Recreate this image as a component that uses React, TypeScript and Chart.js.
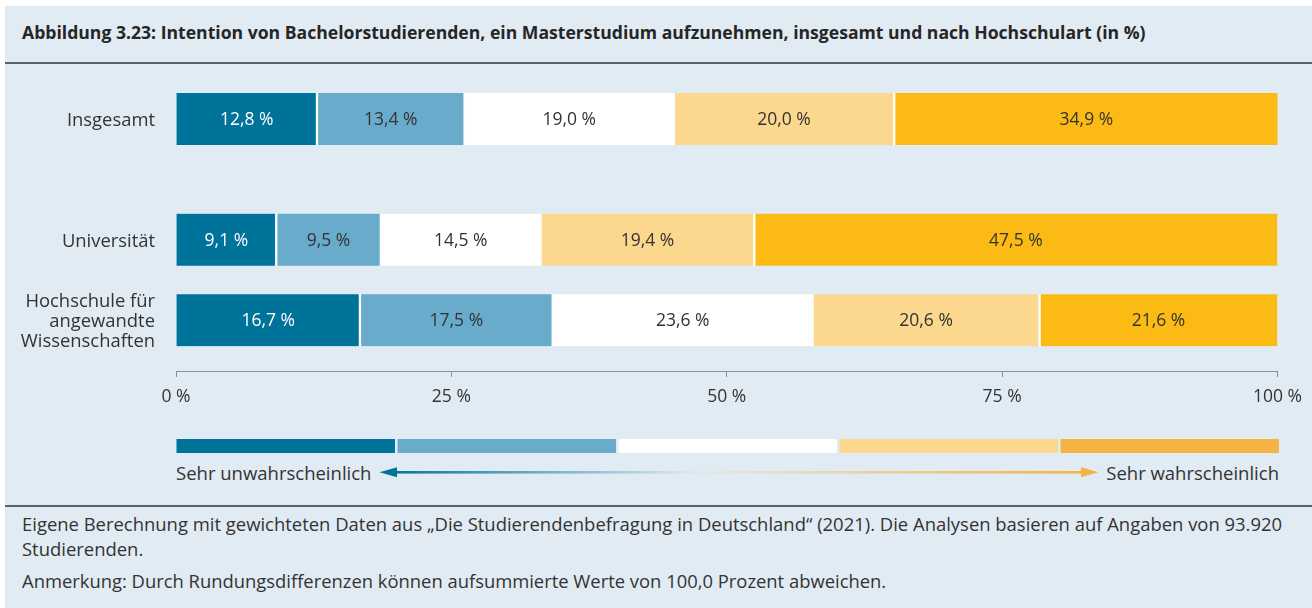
import React, { useEffect, useRef } from 'react';
import { Chart, registerables } from 'chart.js';

Chart.register(...registerables);

// ---------- data ----------
const categories: (string | string[])[] = [
  'Insgesamt',
  'Universität',
  ['Hochschule für', 'angewandte', 'Wissenschaften'],
];
// position of each row on the (linear) category axis – Insgesamt is set apart
const rowPositions = [0, 3, 5];

const seriesLabels = [
  'Sehr unwahrscheinlich',
  'Eher unwahrscheinlich',
  'Teils/teils',
  'Eher wahrscheinlich',
  'Sehr wahrscheinlich',
];
const seriesSehrUnw = [12.8, 9.1, 16.7];
const seriesEherUnw = [13.4, 9.5, 17.5];
const seriesTeils = [19.0, 14.5, 23.6];
const seriesEherW = [20.0, 19.4, 20.6];
const seriesSehrW = [34.9, 47.5, 21.6];
const seriesValues = [seriesSehrUnw, seriesEherUnw, seriesTeils, seriesEherW, seriesSehrW];

const xTicks = [0, 25, 50, 75, 100];

const barColors = ['#00739b', '#68abcb', '#ffffff', '#fcd78e', '#fcbb14'];
const legendColors = ['#00739b', '#68abcb', '#ffffff', '#fcd78e', '#f4b342'];
const labelColors = ['#ffffff', '#333333', '#333333', '#333333', '#333333'];

const title =
  'Abbildung 3.23: Intention von Bachelorstudierenden, ein Masterstudium aufzunehmen, insgesamt und nach Hochschulart (in %)';
const sourceLine1 =
  'Eigene Berechnung mit gewichteten Daten aus \u201EDie Studierendenbefragung in Deutschland\u201C (2021). Die Analysen basieren auf Angaben von 93.920';
const sourceLine2 = 'Studierenden.';
const noteLine = 'Anmerkung: Durch Rundungsdifferenzen können aufsummierte Werte von 100,0 Prozent abweichen.';

const FONT = '"Open Sans", "Noto Sans", sans-serif';
const TEXT = '#333333';
const BG = '#e1ebf3';

const fmt = (v: number) => v.toFixed(1).replace('.', ',') + ' %';

const segLabelPlugin = {
  id: 'segLabels',
  afterDatasetsDraw(chart: any) {
    const ctx = chart.ctx;
    ctx.save();
    ctx.font = `17.5px ${FONT}`;
    ctx.textAlign = 'center';
    ctx.textBaseline = 'middle';
    chart.data.datasets.forEach((ds: any, di: number) => {
      const meta = chart.getDatasetMeta(di);
      meta.data.forEach((el: any, i: number) => {
        const p = el.getProps(['x', 'y', 'base'], true);
        const v = ds.data[i].x;
        ctx.fillStyle = labelColors[di];
        ctx.fillText(fmt(v), (p.x + p.base) / 2, p.y + 1);
      });
    });
    ctx.restore();
  },
};

function BarChart() {
  const ref = useRef<HTMLCanvasElement | null>(null);
  useEffect(() => {
    if (!ref.current) return;
    const last = seriesValues.length - 1;
    const chart = new Chart(ref.current, {
      type: 'bar',
      data: {
        datasets: seriesValues.map((vals, di) => ({
          label: seriesLabels[di],
          data: vals.map((v, i) => ({ x: v, y: rowPositions[i] })),
          backgroundColor: barColors[di],
          borderColor: 'rgba(255,255,255,0.95)',
          borderWidth: {
            left: di === 0 ? 0 : 1.5,
            right: di === last ? 0 : 1.5,
            top: 0,
            bottom: 0,
          },
          borderSkipped: false,
          barThickness: 52,
        })),
      },
      options: {
        indexAxis: 'y',
        responsive: false,
        animation: false,
        events: [],
        layout: { padding: { left: 0, right: 31.5, top: 90.8, bottom: 0 } },
        plugins: {
          legend: { display: false },
          tooltip: { enabled: false },
        },
        scales: {
          x: {
            type: 'linear',
            stacked: true,
            min: 0,
            max: 100,
            afterBuildTicks: (scale: any) => {
              scale.ticks = xTicks.map((v) => ({ value: v }));
            },
            afterFit: (scale: any) => {
              scale.height = 49;
            },
            grid: {
              drawOnChartArea: false,
              drawTicks: true,
              tickLength: 6,
              color: '#8a9096',
              lineWidth: 1,
            },
            border: { display: true, color: '#8a9096', width: 1 },
            ticks: {
              padding: 10,
              autoSkip: false,
              maxRotation: 0,
              color: TEXT,
              font: { family: FONT, size: 17.5 },
              callback: (v: any) => `${v} %`,
            },
          },
          y: {
            type: 'linear',
            stacked: true,
            reverse: true,
            offset: false,
            min: -0.7,
            max: 6.264,
            afterBuildTicks: (scale: any) => {
              scale.ticks = rowPositions.map((v) => ({ value: v }));
            },
            afterFit: (scale: any) => {
              scale.width = 176;
            },
            grid: { display: false, offset: false },
            border: { display: false },
            ticks: {
              padding: 13,
              labelOffset: 2,
              autoSkip: false,
              color: TEXT,
              font: { family: FONT, size: 18.4, lineHeight: 1.09 },
              callback: (v: any) => categories[rowPositions.indexOf(Number(v))],
            },
          },
        },
      } as any,
      plugins: [segLabelPlugin],
    });
    return () => chart.destroy();
  }, []);
  return (
    <canvas
      ref={ref}
      width={1312}
      height={420}
      style={{ position: 'absolute', left: 0, top: 0, width: 1312, height: 420 }}
    />
  );
}

function Legend() {
  const left = 176.5;
  const right = 1279;
  const gap = 2.5;
  const n = legendColors.length;
  const w = (right - left - gap * (n - 1)) / n;
  return (
    <svg
      width={1312}
      height={70}
      style={{ position: 'absolute', left: 0, top: 430 }}
    >
      <defs>
        <linearGradient id="gl" gradientUnits="userSpaceOnUse" x1={385} y1={0} x2={700} y2={0}>
          <stop offset="0" stopColor={legendColors[0]} stopOpacity={1} />
          <stop offset="1" stopColor={legendColors[0]} stopOpacity={0} />
        </linearGradient>
        <linearGradient id="gr" gradientUnits="userSpaceOnUse" x1={680} y1={0} x2={1085} y2={0}>
          <stop offset="0" stopColor={legendColors[4]} stopOpacity={0} />
          <stop offset="1" stopColor={legendColors[4]} stopOpacity={1} />
        </linearGradient>
      </defs>
      {legendColors.map((c, i) => (
        <rect key={i} x={left + i * (w + gap)} y={9} width={w} height={14} fill={c} />
      ))}
      <rect x={394} y={41} width={310} height={2.6} fill="url(#gl)" />
      <polygon points="379.5,42.3 397,37.3 397,47.3" fill={legendColors[0]} />
      <rect x={680} y={41} width={403} height={2.6} fill="url(#gr)" />
      <polygon points="1098.5,42.3 1081,37.3 1081,47.3" fill={legendColors[4]} />
      <text x={176} y={42.5} dominantBaseline="central" fontFamily={FONT} fontSize={18.5} fill={TEXT}>
        {seriesLabels[0]}
      </text>
      <text
        x={1279}
        y={42.5}
        dominantBaseline="central"
        textAnchor="end"
        fontFamily={FONT}
        fontSize={18.5}
        fill={TEXT}
      >
        {seriesLabels[4]}
      </text>
    </svg>
  );
}

export default function App() {
  return (
    <div
      style={{
        position: 'fixed',
        left: 0,
        top: 0,
        width: 1312,
        height: 608,
        background: '#ffffff',
        overflow: 'hidden',
        fontFamily: FONT,
        color: TEXT,
      }}
    >
      <div style={{ position: 'absolute', left: 5, top: 6, right: 0, bottom: 0, background: BG }} />
      <div
        style={{
          position: 'absolute',
          left: 22,
          top: 20,
          height: 24,
          lineHeight: '24px',
          fontSize: 17.6,
          fontWeight: 700,
          whiteSpace: 'nowrap',
          color: '#262626',
        }}
      >
        {title}
      </div>
      <div style={{ position: 'absolute', left: 5, right: 0, top: 62, height: 2, background: '#5b6066' }} />
      <BarChart />
      <Legend />
      <div style={{ position: 'absolute', left: 5, right: 0, top: 505, height: 2, background: '#5b6066' }} />
      <div
        style={{
          position: 'absolute',
          left: 22,
          top: 510.5,
          fontSize: 18.45,
          lineHeight: '25px',
          whiteSpace: 'nowrap',
        }}
      >
        {sourceLine1}
        <br />
        {sourceLine2}
      </div>
      <div
        style={{
          position: 'absolute',
          left: 22,
          top: 567.5,
          fontSize: 18.4,
          lineHeight: '25px',
          whiteSpace: 'nowrap',
        }}
      >
        {noteLine}
      </div>
    </div>
  );
}
